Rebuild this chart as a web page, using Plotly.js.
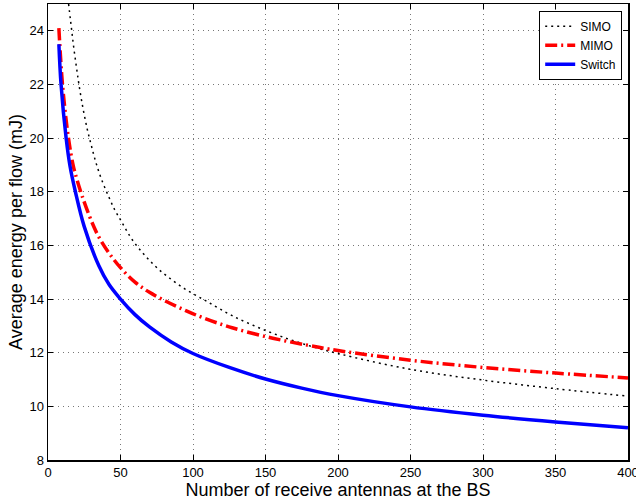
<!DOCTYPE html>
<html>
<head>
<meta charset="utf-8">
<script src="https://cdn.plot.ly/plotly-3.0.1.min.js"></script>
<style>html,body{margin:0;padding:0;background:#fff;}#chart{width:636px;height:502px;}</style>
</head>
<body>
<div id="chart"></div>
<script>
// Number of receive antennas at the BS (x) and average energy per flow in mJ (y)
const simoX = [14.2, 15.4, 16.6, 17.7, 20, 21.2, 23.5, 27, 30, 33, 37, 42, 46, 50, 54, 58, 64, 70, 76.5, 83.4, 91.5, 100, 110, 127, 150, 173, 200, 250, 300, 350, 400];
const simoY = [25.0, 24.45, 23.9, 23.4, 22.5, 22.05, 21.3, 20.35, 19.7, 19.1, 18.45, 17.8, 17.33, 16.95, 16.57, 16.22, 15.8, 15.44, 15.1, 14.8, 14.48, 14.2, 13.9, 13.38, 12.83, 12.38, 11.97, 11.38, 10.98, 10.66, 10.38];

const mimoX = [7.5, 10, 14.1, 17.5, 20, 23.5, 30, 35, 42, 50, 60, 70, 82, 95, 107, 127, 155, 180, 200, 250, 300, 350, 400];
const mimoY = [24.1, 22.0, 20.0, 18.95, 18.45, 17.85, 16.9, 16.32, 15.72, 15.17, 14.63, 14.25, 13.9, 13.57, 13.3, 12.93, 12.54, 12.27, 12.08, 11.72, 11.45, 11.24, 11.06];

const switchX = [7.5, 9, 12.5, 15.2, 18.9, 25, 35, 42, 50, 60, 70, 85, 100, 125, 150, 175, 200, 250, 300, 350, 400];
const switchY = [23.5, 22.0, 20.0, 18.95, 18.0, 16.7, 15.25, 14.55, 14.0, 13.42, 12.96, 12.4, 11.97, 11.45, 11.02, 10.68, 10.4, 9.98, 9.67, 9.42, 9.2];

const xTicks = [0, 50, 100, 150, 200, 250, 300, 350, 400];
const yTicks = [8, 10, 12, 14, 16, 18, 20, 22, 24];

const FONT = 'Liberation Sans, Arial, Helvetica, sans-serif';

const traces = [
  {x: simoX, y: simoY, name: 'SIMO', mode: 'lines', line: {color: '#000', width: 1.5, dash: '2px,4px', shape: 'spline', smoothing: 1}},
  {x: mimoX, y: mimoY, name: 'MIMO', mode: 'lines', line: {color: '#ff0000', width: 3.5, dash: '12px,4px,2px,4px', shape: 'spline', smoothing: 1}},
  {x: switchX, y: switchY, name: 'Switch', mode: 'lines', line: {color: '#0000ff', width: 3.5, shape: 'spline', smoothing: 1}}
];

const axisCommon = {
  showline: true, linecolor: '#000', linewidth: 1.5, mirror: 'ticks',
  ticks: 'inside', ticklen: 5, tickcolor: '#000',
  showgrid: true, gridcolor: '#777', gridwidth: 1, griddash: '1px,4px',
  zeroline: false, ticklabeloverflow: 'allow',
  tickfont: {family: FONT, size: 13, color: '#000'}
};

const layout = {
  width: 636, height: 502,
  margin: {l: 48, r: 8, t: 4, b: 42},
  paper_bgcolor: '#fff', plot_bgcolor: '#fff',
  showlegend: true,
  xaxis: Object.assign({}, axisCommon, {
    range: [0, 400], tickvals: xTicks, ticktext: xTicks.map(String),
    title: {text: 'Number of receive antennas at the BS', font: {family: FONT, size: 18, color: '#000'}, standoff: 0}
  }),
  yaxis: Object.assign({}, axisCommon, {
    range: [8, 25], tickvals: yTicks, ticktext: yTicks.map(String),
    title: {text: 'Average energy per flow (mJ)', font: {family: FONT, size: 18, color: '#000'}, standoff: 2}
  }),
  legend: {
    x: 0.99, y: 0.985, xanchor: 'right', yanchor: 'top',
    bgcolor: '#fff', bordercolor: '#000', borderwidth: 1,
    font: {family: FONT, size: 12, color: '#000'},
    itemwidth: 30, tracegroupgap: 0
  }
};

Plotly.newPlot('chart', traces, layout, {staticPlot: true, displayModeBar: false});
</script>
</body>
</html>
